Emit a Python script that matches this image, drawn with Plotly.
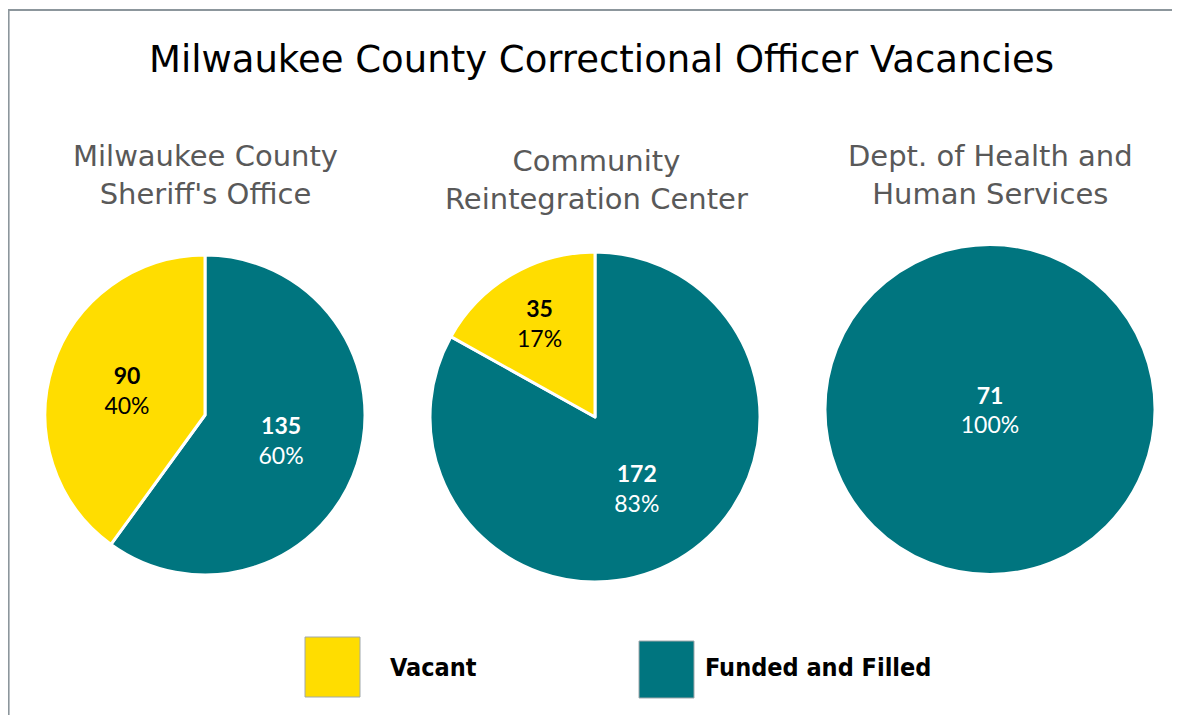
import plotly.graph_objects as go

categories = ["Vacant", "Funded and Filled"]
groups = ["Milwaukee County<br>Sheriff's Office",
          "Community<br>Reintegration Center",
          "Dept. of Health and<br>Human Services"]
vacant = [90, 35, 0]
funded = [135, 172, 71]
colors = ["#FFDD00", "#00757F"]
text_colors = ["#000000", "#FFFFFF"]

# page has an 8px body margin: figure starts at page (8, 8)
OFF = 8
W, H = 1172, 707

def px(X):
    return (X - OFF) / W

def py(Y):
    return 1 - (Y - OFF) / H

def dom(x0, x1, y0, y1):
    return dict(x=[px(x0), px(x1)], y=[py(y1), py(y0)])

domains = [dom(45, 365, 255, 575), dom(430, 760, 252, 582), dom(825, 1155, 244, 575)]
centers_x = [205, 596, 990]
sub_y = [175, 180, 175]

fig = go.Figure()
for i in range(3):
    # clockwise from 12 o'clock: Funded first, Vacant fills the rest (left side)
    vals, labs, cols, tcols = [], [], [], []
    for k in (1, 0):
        v = [vacant[i], funded[i]][k]
        if v > 0:
            vals.append(v)
            labs.append(categories[k])
            cols.append(colors[k])
            tcols.append(text_colors[k])
    fig.add_trace(go.Pie(
        values=vals, labels=labs, sort=False, direction="clockwise",
        rotation=0,
        marker=dict(colors=cols, line=dict(color="white", width=3)),
        texttemplate="<b>%{value}</b><br>%{percent:.0%}",
        textposition="inside", insidetextorientation="horizontal",
        textfont=dict(family="Lato, sans-serif", size=23, color=tcols),
        domain=domains[i], showlegend=False, hoverinfo="label+value+percent",
    ))
    fig.add_annotation(x=px(centers_x[i]), y=py(sub_y[i]), xref="paper", yref="paper",
                       text=groups[i], showarrow=False,
                       font=dict(family="DejaVu Sans, sans-serif", size=29, color="#595959"),
                       align="center", xanchor="center", yanchor="middle")

fig.add_annotation(x=px(601), y=py(60), xref="paper", yref="paper",
                   text="Milwaukee County Correctional Officer Vacancies", showarrow=False,
                   font=dict(family="DejaVu Sans, sans-serif", size=37, color="#000000"),
                   xanchor="center", yanchor="middle")

# legend keys
leg_boxes = [(305, 360, 637, 697), (639, 694, 641, 698)]
leg_text_x = [388, 703]
for j in range(2):
    x0, x1, y0, y1 = leg_boxes[j]
    fig.add_shape(type="rect", xref="paper", yref="paper",
                  x0=px(x0), x1=px(x1), y0=py(y1), y1=py(y0),
                  fillcolor=colors[j], line=dict(color="#A0A8AC", width=1))
    fig.add_annotation(x=px(leg_text_x[j]), y=py(667), xref="paper", yref="paper",
                       text="<b>" + categories[j] + "</b>", showarrow=False,
                       font=dict(family="DejaVu Sans Condensed, Liberation Sans Narrow, Arial Narrow, sans-serif",
                                 size=25, color="#000000"),
                       xanchor="left", yanchor="middle")

# frame lines (top and left)
fig.add_shape(type="line", xref="paper", yref="paper", x0=px(7), x1=1, y0=py(10), y1=py(10),
              line=dict(color="#8C969C", width=2))
fig.add_shape(type="line", xref="paper", yref="paper", x0=0.6 / W, x1=0.6 / W, y0=0, y1=py(10),
              line=dict(color="#8C969C", width=2))

fig.update_layout(width=W, height=H, margin=dict(l=0, r=0, t=0, b=0),
                  paper_bgcolor="white", plot_bgcolor="white")
fig.write_html("out.html")
